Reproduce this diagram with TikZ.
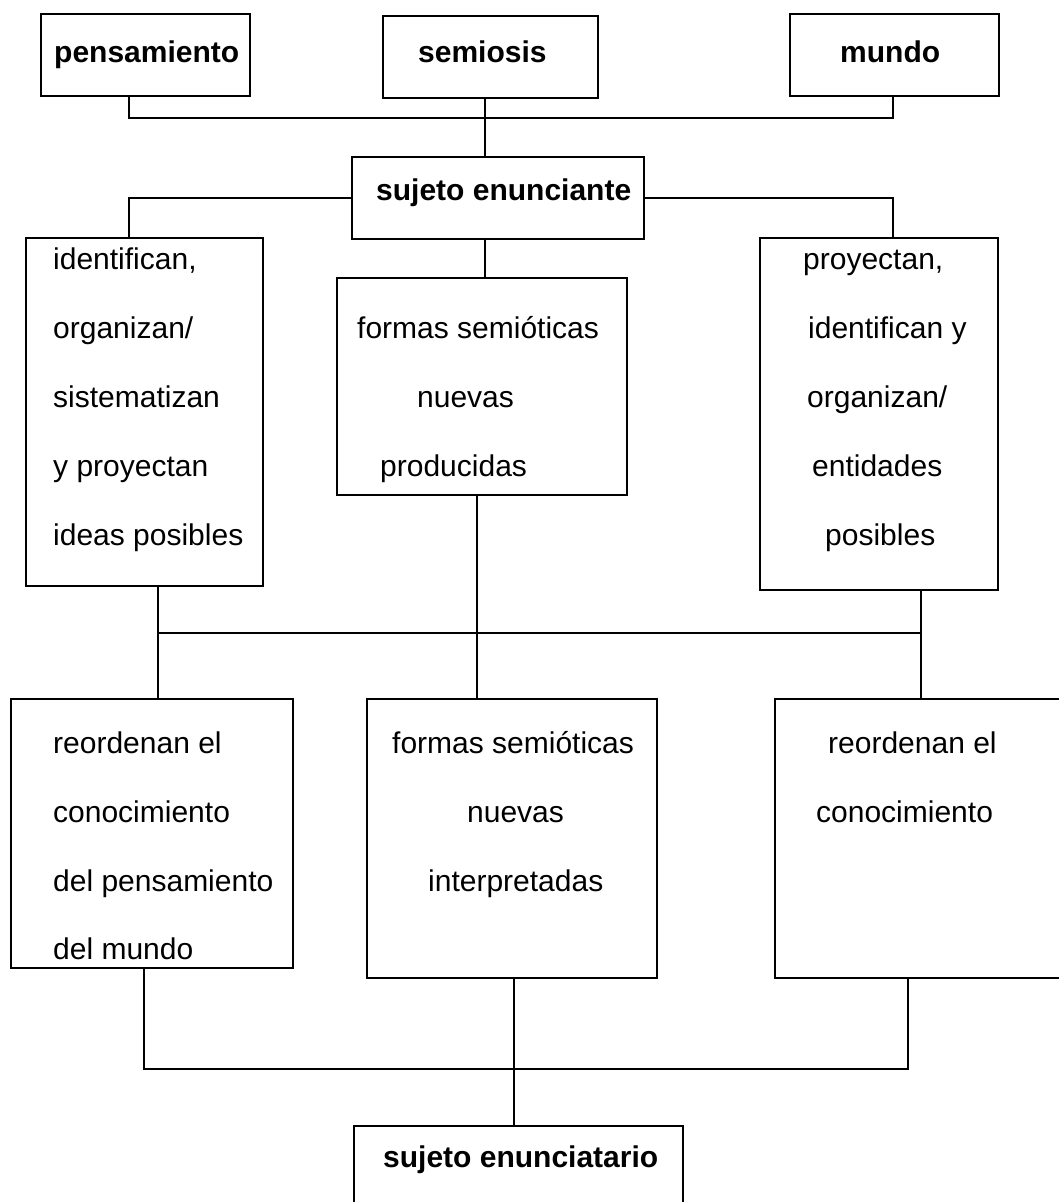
\documentclass[tikz,border=0pt]{standalone}
\usepackage{fontspec}
\setmainfont{Liberation Sans}
\usetikzlibrary{calc}
\tikzset{
  box/.style={draw, line width=1.9pt, rectangle, inner sep=0pt, anchor=north west},
  txt/.style={anchor=base west, inner sep=0pt, font=\fontsize{30}{36}\selectfont},
  btxt/.style={anchor=base west, inner sep=0pt, font=\fontsize{30}{36}\selectfont\bfseries},
  conn/.style={draw, line width=1.9pt}
}
\begin{document}
\begin{tikzpicture}[x=1pt,y=-1pt]
\useasboundingbox (0,0) rectangle (1059,1202);
% boxes
\node[box, minimum width=209pt, minimum height=82pt] (pen) at (40,13) {};
\node[box, minimum width=215pt, minimum height=82pt] (sem) at (382,15) {};
\node[box, minimum width=209pt, minimum height=82pt] (mun) at (789,13) {};
\node[box, minimum width=292pt, minimum height=82pt] (sen) at (351,156) {};
\node[box, minimum width=237pt, minimum height=348pt] (L1) at (25,237) {};
\node[box, minimum width=290pt, minimum height=217pt] (M1) at (336,277) {};
\node[box, minimum width=238pt, minimum height=352pt] (R1) at (759,237) {};
\node[box, minimum width=282pt, minimum height=269pt] (L2) at (10,698) {};
\node[box, minimum width=290pt, minimum height=279pt] (M2) at (366,698) {};
\node[box, minimum width=295pt, minimum height=279pt] (R2) at (774,698) {};
\node[box, minimum width=329pt, minimum height=95pt] (sef) at (353,1125) {};
% texts
\node[btxt] (tpen) at (54,62) {pensamiento};
\node[btxt] (tsem) at (418,62) {semiosis};
\node[btxt] (tmun) at (840,62) {mundo};
\node[btxt] (tsen) at (376,200) {sujeto enunciante};
\node[btxt] (tsef) at (383,1167) {sujeto enunciatario};
\node[txt] (l1a) at (53,269) {identifican,};
\node[txt] (l1b) at (53,338) {organizan/};
\node[txt] (l1c) at (53,407) {sistematizan};
\node[txt] (l1d) at (53,476) {y proyectan};
\node[txt] (l1e) at (53,545) {ideas posibles};
\node[txt] (m1a) at (357,338) {formas semióticas};
\node[txt] (m1b) at (417,407) {nuevas};
\node[txt] (m1c) at (380,476) {producidas};
\node[txt] (r1a) at (803,269) {proyectan,};
\node[txt] (r1b) at (808,338) {identifican y};
\node[txt] (r1c) at (807,407) {organizan/};
\node[txt] (r1d) at (812,476) {entidades};
\node[txt] (r1e) at (825,545) {posibles};
\node[txt] (l2a) at (53,753) {reordenan el};
\node[txt] (l2b) at (53,822) {conocimiento};
\node[txt] (l2c) at (53,891) {del pensamiento};
\node[txt] (l2d) at (53,959) {del mundo};
\node[txt] (m2a) at (392,753) {formas semióticas};
\node[txt] (m2b) at (467,822) {nuevas};
\node[txt] (m2c) at (428,891) {interpretadas};
\node[txt] (r2a) at (828,753) {reordenan el};
\node[txt] (r2b) at (816,822) {conocimiento};
% connectors
\draw[conn] ($(pen.south west)+(89,0)$) |- ($(mun.south west)+(104,21)$) -- ($(mun.south west)+(104,0)$);
\draw[conn] ($(sem.south west)+(103,0)$) -- ($(sen.north west)+(134,0)$);
\draw[conn] (sen.west) -| ($(L1.north west)+(104,0)$);
\draw[conn] (sen.east) -| ($(R1.north west)+(134,0)$);
\draw[conn] ($(sen.south west)+(134,0)$) -- ($(M1.north west)+(149,0)$);
\draw[conn] ($(L1.south west)+(133,0)$) -- ($(L2.north west)+(148,0)$);
\draw[conn] ($(R1.south west)+(162,0)$) -- ($(R2.north west)+(147,0)$);
\draw[conn] ($(M1.south west)+(141,0)$) -- ($(M2.north west)+(111,0)$);
\draw[conn] ($(L1.south west)+(133,46)$) -- ($(R1.south west)+(162,42)$);
\draw[conn] ($(L2.south west)+(134,0)$) |- ($(R2.south west)+(134,90)$) -- ($(R2.south west)+(134,0)$);
\draw[conn] ($(M2.south west)+(148,0)$) -- ($(sef.north west)+(161,0)$);
\end{tikzpicture}
\end{document}
